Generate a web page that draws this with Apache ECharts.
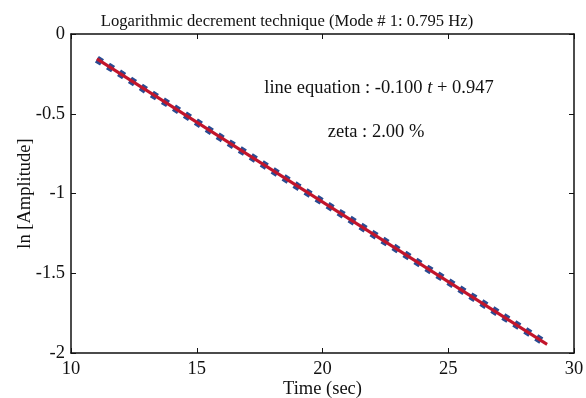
<!DOCTYPE html>
<html>
<head>
<meta charset="utf-8">
<script src="https://cdn.jsdelivr.net/npm/echarts@6/dist/echarts.min.js"></script>
<style>
  html, body { margin: 0; padding: 0; background: #fff; }
  #chart { width: 586px; height: 398px; }
</style>
</head>
<body>
<div id="chart"></div>
<script>
// Modal frequency (Hz) and fitted decay line of ln(amplitude) against time
const modeNumber = 1;
const modeFreq = 0.795;
const fitSlope = -0.100;
const fitIntercept = 0.947;

// Measured ln(amplitude) samples
const timeSec = [11.03, 12, 13, 14, 15, 16, 17, 18, 19, 20, 21, 22, 23, 24, 25, 26, 27, 28, 28.93];
const lnAmp = [-0.158, -0.252, -0.355, -0.452, -0.553, -0.655, -0.752, -0.853, -0.955, -1.053,
               -1.152, -1.253, -1.353, -1.453, -1.552, -1.652, -1.752, -1.852, -1.945];

// Axis ticks
const xTicks = [10, 15, 20, 25, 30];
const yTicks = [0, -0.5, -1, -1.5, -2];

const measured = timeSec.map((t, i) => [t, lnAmp[i]]);
const tStart = timeSec[0], tEnd = timeSec[timeSec.length - 1];
const fitted = [[tStart, fitSlope * tStart + fitIntercept], [tEnd, fitSlope * tEnd + fitIntercept]];
const zetaPct = (-fitSlope / (2 * Math.PI * modeFreq) * 100).toFixed(2);

const FONT = '"Liberation Serif", "DejaVu Serif", serif';
const FS = 18.5;
const axisLine = { show: true, onZero: false, lineStyle: { color: '#111', width: 1.5 } };
const tick = { show: true, inside: true, length: 5, lineStyle: { color: '#111', width: 1 } };
const lbl = { color: '#111', fontFamily: FONT, fontSize: FS };

const chart = echarts.init(document.getElementById('chart'), null, { renderer: 'canvas' });
chart.setOption({
  animation: false,
  backgroundColor: '#fff',
  grid: { left: 71, right: 12, top: 34, bottom: 45, containLabel: false, outerBoundsMode: 'none' },
  xAxis: [
    {
      type: 'value', min: xTicks[0], max: xTicks[xTicks.length - 1], interval: 5,
      position: 'bottom',
      name: 'Time (sec)', nameLocation: 'middle', nameGap: 27, nameMoveOverlap: false,
      nameTextStyle: { color: '#111', fontFamily: FONT, fontSize: FS },
      axisLine, axisTick: tick, splitLine: { show: false },
      axisLabel: Object.assign({ margin: 7 }, lbl)
    },
    {
      type: 'value', min: xTicks[0], max: xTicks[xTicks.length - 1], interval: 5,
      position: 'top', axisLine, axisTick: tick, splitLine: { show: false },
      axisLabel: { show: false }
    }
  ],
  yAxis: [
    {
      type: 'value', min: yTicks[yTicks.length - 1], max: yTicks[0], interval: 0.5,
      position: 'left',
      name: 'ln [Amplitude]', nameLocation: 'middle', nameGap: 36, nameRotate: 90, nameMoveOverlap: false,
      nameTextStyle: { color: '#111', fontFamily: FONT, fontSize: FS },
      axisLine, axisTick: tick, splitLine: { show: false },
      axisLabel: Object.assign({ margin: 6, formatter: v => String(v) }, lbl)
    },
    {
      type: 'value', min: yTicks[yTicks.length - 1], max: yTicks[0], interval: 0.5,
      position: 'right', axisLine, axisTick: tick, splitLine: { show: false },
      axisLabel: { show: false }
    }
  ],
  series: [
    {
      name: 'measured', type: 'line', data: measured, showSymbol: false, symbol: 'none',
      lineStyle: { color: '#2b4b92', width: 7.5, type: [6, 7], cap: 'butt' },
      z: 2
    },
    {
      name: 'fit', type: 'line', data: fitted, showSymbol: false, symbol: 'none',
      lineStyle: { color: '#c2152b', width: 3 },
      z: 3
    }
  ],
  graphic: [
    {
      type: 'text', x: 287, y: 22,
      style: {
        text: 'Logarithmic decrement technique (Mode # ' + modeNumber + ': ' + modeFreq.toFixed(3) + ' Hz)',
        fill: '#111', font: '16.6px ' + FONT, align: 'center', verticalAlign: 'middle'
      }
    },
    {
      type: 'text', x: 379, y: 88,
      style: {
        text: 'line equation : ' + fitSlope.toFixed(3) + ' {i|t} + ' + fitIntercept.toFixed(3),
        fill: '#111', font: FS + 'px ' + FONT, align: 'center', verticalAlign: 'middle',
        rich: { i: { fontStyle: 'italic', fontFamily: FONT, fontSize: FS, fill: '#111' } }
      }
    },
    {
      type: 'text', x: 376, y: 132,
      style: {
        text: 'zeta : ' + zetaPct + ' %',
        fill: '#111', font: FS + 'px ' + FONT, align: 'center', verticalAlign: 'middle'
      }
    }
  ]
});
</script>
</body>
</html>
